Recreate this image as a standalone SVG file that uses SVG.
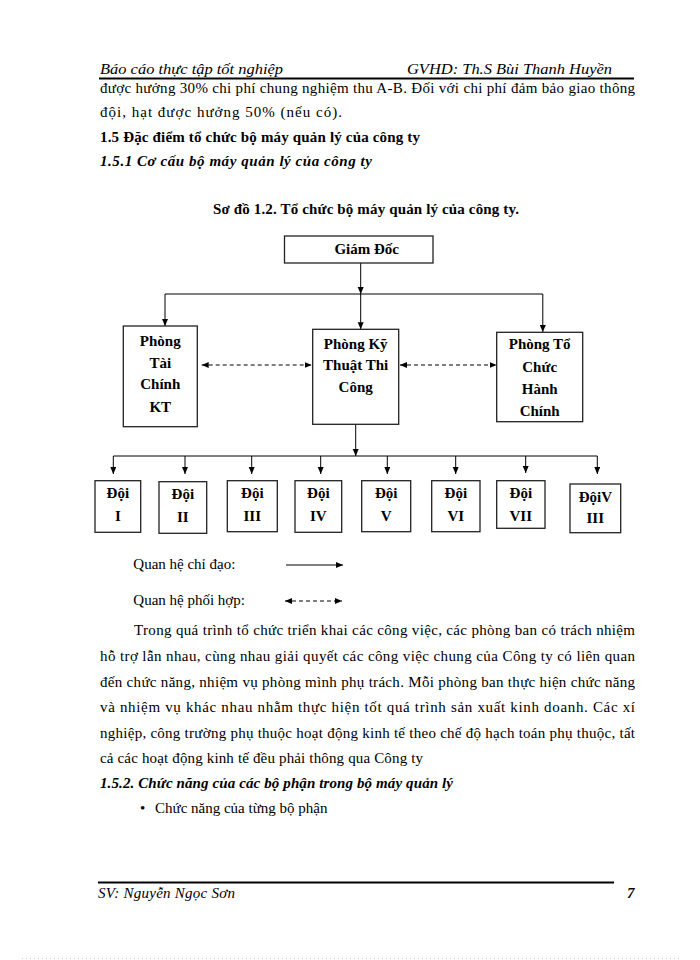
<svg xmlns="http://www.w3.org/2000/svg" width="700" height="960" viewBox="0 0 700 960">
<defs>
<marker id="ah" markerUnits="userSpaceOnUse" markerWidth="8" markerHeight="7" refX="7" refY="3" orient="auto-start-reverse"><path d="M0,0 L7,3 L0,6 z" fill="#000"/></marker>
<style>
.t{font-family:"Liberation Serif","Times New Roman",serif;font-size:15px;fill:#000}
.b{font-weight:bold}
.i{font-style:italic}
.c{text-anchor:middle}
.box{fill:#fff;stroke:#222;stroke-width:1.3}
.ln{fill:none;stroke:#000;stroke-width:1}
.ar{fill:none;stroke:#000;stroke-width:1;marker-end:url(#ah)}
.da{fill:none;stroke:#000;stroke-width:1;stroke-dasharray:4,3;marker-start:url(#ah);marker-end:url(#ah)}
</style>
</defs>
<rect width="700" height="960" fill="#fff"/>
<!-- header -->
<text class="t i" x="100" y="74" textLength="183" lengthAdjust="spacingAndGlyphs">Báo cáo thực tập tốt nghiệp</text>
<text class="t i" x="407" y="74" textLength="205" lengthAdjust="spacingAndGlyphs">GVHD: Th.S Bùi Thanh Huyền</text>
<line x1="99" y1="78.5" x2="634" y2="78.5" stroke="#000" stroke-width="1.8"/>
<text class="t" x="100" y="93" textLength="535" lengthAdjust="spacing">được hưởng 30% chi phí chung nghiệm thu A-B. Đối với chi phí đảm bảo giao thông</text>
<text class="t" x="100" y="117" textLength="242" lengthAdjust="spacing">đội, hạt được hưởng 50% (nếu có).</text>
<text class="t b" x="100" y="142" textLength="320" lengthAdjust="spacing">1.5 Đặc điểm tổ chức bộ máy quản lý của công ty</text>
<text class="t b i" x="100" y="166" textLength="272" lengthAdjust="spacing">1.5.1 Cơ cấu bộ máy quản lý của công ty</text>
<text class="t b" x="213" y="214" textLength="306" lengthAdjust="spacing">Sơ đồ 1.2. Tổ chức bộ máy quản lý của công ty.</text>
<!-- connectors -->
<g id="connectors">
<line class="ar" x1="360.7" y1="263" x2="360.7" y2="294"/>
<polyline class="ln" points="165,294 542.8,294"/>
<line class="ar" x1="165" y1="294" x2="165" y2="326"/>
<line class="ar" x1="360.7" y1="294" x2="360.7" y2="329.3"/>
<line class="ar" x1="542.8" y1="294" x2="542.8" y2="332"/>
<line class="da" x1="201.7" y1="365" x2="311.7" y2="365"/>
<line class="da" x1="400" y1="365" x2="496.7" y2="365"/>
<line class="ar" x1="355.7" y1="424.3" x2="355.7" y2="456"/>
<polyline class="ln" points="113.3,456 597.3,456"/>
<line class="ar" x1="113.3" y1="456" x2="113.3" y2="474"/>
<line class="ar" x1="185" y1="456" x2="185" y2="474"/>
<line class="ar" x1="251.7" y1="456" x2="251.7" y2="474"/>
<line class="ar" x1="320.7" y1="456" x2="320.7" y2="474"/>
<line class="ar" x1="387.3" y1="456" x2="387.3" y2="474"/>
<line class="ar" x1="455.7" y1="456" x2="455.7" y2="474"/>
<line class="ar" x1="525.7" y1="456" x2="525.7" y2="473"/>
<line class="ar" x1="597.3" y1="456" x2="597.3" y2="474"/>
</g>
<!-- nodes -->
<g id="giamdoc"><rect class="box" x="284.5" y="236" width="148.5" height="27"/><text class="t b c" x="366.7" y="254">Giám Đốc</text></g>
<g id="taichinh"><rect class="box" x="123.3" y="326" width="74" height="100.7"/>
<text class="t b c" x="160.3" y="346">Phòng</text><text class="t b c" x="160.3" y="368">Tài</text><text class="t b c" x="160.3" y="389">Chính</text><text class="t b c" x="160.3" y="412">KT</text></g>
<g id="kythuat"><rect class="box" x="312.7" y="329.3" width="86" height="95"/>
<text class="t b c" x="355.7" y="349">Phòng Kỹ</text><text class="t b c" x="355.7" y="370">Thuật  Thi</text><text class="t b c" x="355.7" y="392">Công</text></g>
<g id="tochuc"><rect class="box" x="496.7" y="332.3" width="86" height="89.4"/>
<text class="t b c" x="539.7" y="349">Phòng Tổ</text><text class="t b c" x="539.7" y="372">Chức</text><text class="t b c" x="539.7" y="394">Hành</text><text class="t b c" x="539.7" y="416">Chính</text></g>
<g id="doi1"><rect class="box" x="95" y="480.7" width="45.7" height="51.6"/><text class="t b c" x="117.8" y="498">Đội</text><text class="t b c" x="117.8" y="521">I</text></g>
<g id="doi2"><rect class="box" x="159" y="481.7" width="47.7" height="51.6"/><text class="t b c" x="182.8" y="499">Đội</text><text class="t b c" x="182.8" y="522">II</text></g>
<g id="doi3"><rect class="box" x="227.3" y="480.7" width="50" height="51"/><text class="t b c" x="252.3" y="498">Đội</text><text class="t b c" x="252.3" y="521">III</text></g>
<g id="doi4"><rect class="box" x="295" y="480.7" width="46.7" height="51.6"/><text class="t b c" x="318.3" y="498">Đội</text><text class="t b c" x="318.3" y="521">IV</text></g>
<g id="doi5"><rect class="box" x="361.7" y="480.7" width="49" height="51"/><text class="t b c" x="386.2" y="498">Đội</text><text class="t b c" x="386.2" y="521">V</text></g>
<g id="doi6"><rect class="box" x="431.7" y="480.7" width="48.3" height="51"/><text class="t b c" x="455.8" y="498">Đội</text><text class="t b c" x="455.8" y="521">VI</text></g>
<g id="doi7"><rect class="box" x="496.7" y="480.7" width="48.3" height="47.6"/><text class="t b c" x="520.8" y="498">Đội</text><text class="t b c" x="520.8" y="521">VII</text></g>
<g id="doi8"><rect class="box" x="570" y="484" width="50.7" height="48.7"/><text class="t b c" x="595.3" y="502">ĐộiV</text><text class="t b c" x="595.3" y="523">III</text></g>
<!-- legend -->
<text class="t" x="133.3" y="569">Quan hệ chỉ đạo:</text>
<line class="ar" x1="286" y1="565" x2="343" y2="565"/>
<text class="t" x="133.3" y="605">Quan hệ phối hợp:</text>
<line class="da" x1="285" y1="601" x2="342" y2="601"/>
<!-- paragraph -->
<text class="t" x="134" y="635" textLength="501" lengthAdjust="spacing">Trong quá trình tổ chức triển khai các công việc, các phòng ban có trách nhiệm</text>
<text class="t" x="100" y="661" textLength="535" lengthAdjust="spacing">hỗ trợ lẫn nhau, cùng nhau giải quyết các công việc chung của Công ty có liên quan</text>
<text class="t" x="100" y="687" textLength="535" lengthAdjust="spacing">đến chức năng, nhiệm vụ phòng mình phụ trách. Mỗi phòng ban thực hiện chức năng</text>
<text class="t" x="100" y="712" textLength="535" lengthAdjust="spacing">và nhiệm vụ khác nhau nhằm thực hiện tốt quá trình sản xuất kinh doanh. Các xí</text>
<text class="t" x="100" y="738" textLength="535" lengthAdjust="spacing">nghiệp, công trường phụ thuộc hoạt động kinh tế theo chế độ hạch toán phụ thuộc, tất</text>
<text class="t" x="100" y="763" textLength="323" lengthAdjust="spacing">cả các hoạt động kinh tế đều phải thông qua Công ty</text>
<text class="t b i" x="100" y="788" textLength="353" lengthAdjust="spacing">1.5.2. Chức năng của các bộ phận trong bộ máy quản lý</text>
<text class="t" x="140" y="813">•</text>
<text class="t" x="155" y="813">Chức năng của từng bộ phận</text>
<!-- footer -->
<line x1="98" y1="882.5" x2="614" y2="882.5" stroke="#000" stroke-width="1.8"/>
<text class="t i" x="98" y="897.5" textLength="137" lengthAdjust="spacing">SV: Nguyễn Ngọc Sơn</text>
<text class="t b i" x="627" y="897.5">7</text>
<line x1="22" y1="958.5" x2="680" y2="958.5" stroke="#c5d6c5" stroke-width="1" stroke-dasharray="1,3"/>
</svg>
